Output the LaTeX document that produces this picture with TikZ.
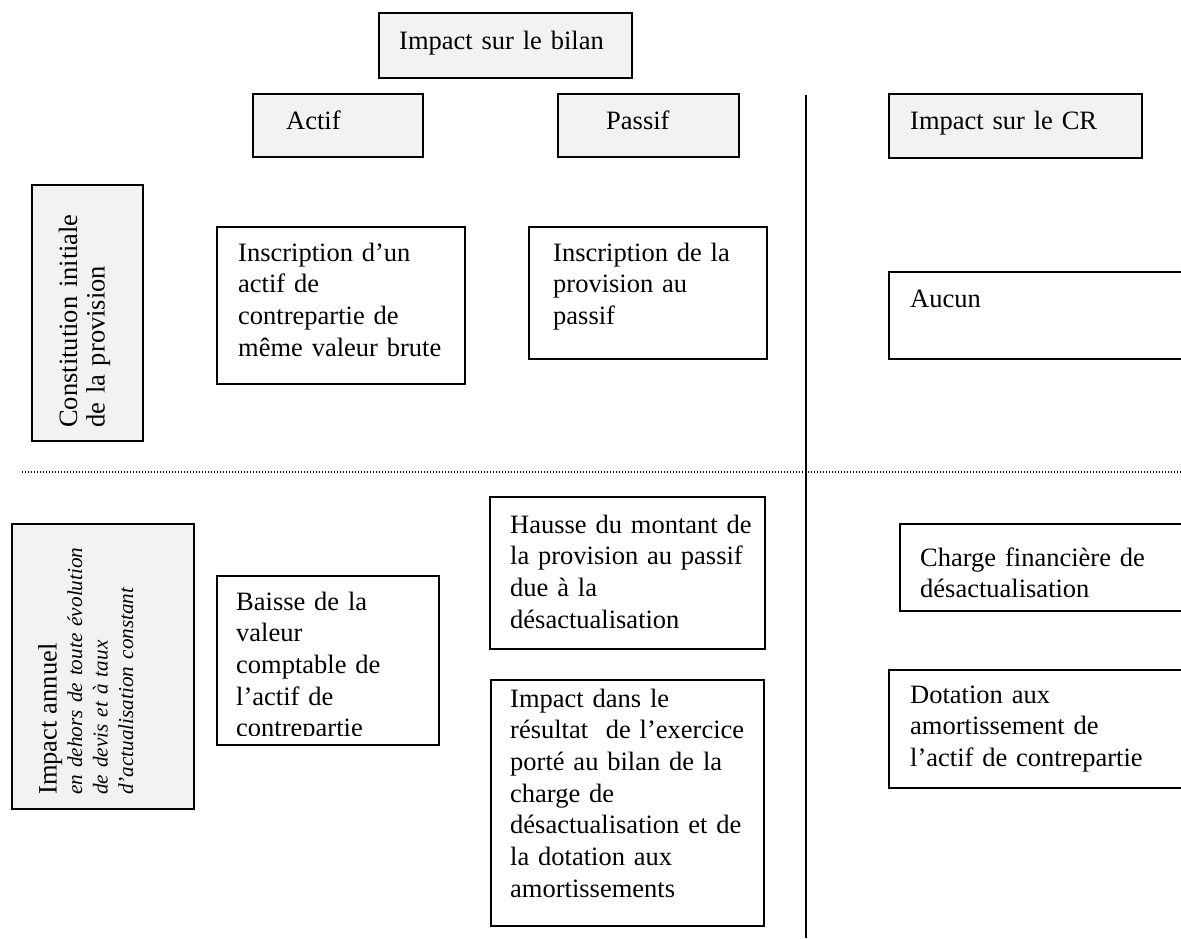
\documentclass[tikz,border=0pt]{standalone}
\usepackage{fontspec}
\setmainfont{Liberation Serif}
\usetikzlibrary{positioning}
\definecolor{hdrgray}{HTML}{F2F2F2}

\begin{document}
\begin{tikzpicture}[%
    x=1pt, y=-1pt,
    font=\fontsize{26.5}{31.7}\selectfont,
    frame/.style={draw, line width=1.5pt, inner sep=0pt, anchor=north west},
    hdr/.style={frame, fill=hdrgray},
    sized/.style 2 args={minimum width=#1, minimum height=#2},
    txt/.style={inner sep=0pt, anchor=base west, text width=340, align=left},
    divider/.style={line width=1.8pt},
    sep/.style={line width=1.2pt, dash pattern=on 1.2pt off 1.8pt},
  ]
    \useasboundingbox (0,0) rectangle (1181,938);

    \node[hdr, sized={253}{65}]   (bilan)    at (378,12)  {};
    \node[hdr, sized={170}{63}]   (actif)    at (252,93)  {};
    \node[hdr, sized={181}{63}]   (passif)   at (557,93)  {};
    \node[hdr, sized={253}{64}]   (cr)       at (888,93)  {};
    \node[hdr, sized={111}{256}]  (constit)  at (31,184)  {};
    \node[hdr, sized={182}{285}]  (annuel)   at (11,523)  {};

    \node[frame, sized={248}{157}] (inscact)  at (216,226) {};
    \node[frame, sized={238}{132}] (inscpas)  at (528,226) {};
    \node[frame, sized={320}{87}]  (aucun)    at (888,271) {};
    \node[frame, sized={222}{169}] (baisse)   at (216,575) {};
    \node[frame, sized={275}{152}] (hausse)   at (489,496) {};
    \node[frame, sized={273}{246}] (impres)   at (490,679) {};
    \node[frame, sized={300}{87}]  (charge)   at (899,523) {};
    \node[frame, sized={320}{118}] (dotation) at (888,669) {};

    \node[txt] (bilan-t)  at (399,49)  {Impact sur le bilan};
    \node[txt] (actif-t)  at (286,129) {Actif};
    \node[txt] (passif-t) at (606,129) {Passif};
    \node[txt] (cr-t)     at (910,129) {Impact sur le CR};

    \node[txt, rotate=90, font=\fontsize{26.5}{27.5}\selectfont] (constit-t) at (77,428)
      {Constitution initiale\\de la provision};
    \node[txt, rotate=90, font=\fontsize{21.2}{25.5}\selectfont\itshape] (annuel-t) at (56.7,795)
      {{\upshape\fontsize{26.5}{25.5}\selectfont Impact annuel}\\en dehors de toute évolution\\de devis et à taux\\d’actualisation constant};

    \node[txt] (inscact-t) at (238,261) {Inscription d’un\\actif de\\contrepartie de\\même valeur brute};
    \node[txt] (inscpas-t) at (553,261) {Inscription de la\\provision au\\passif};
    \node[txt] (aucun-t)   at (910,307) {Aucun};
    \begin{scope}
      \clip (216,575) rectangle (438,735);
      \node[txt] (baisse-t) at (236,610) {Baisse de la\\valeur\\comptable de\\l’actif de\\contrepartie};
    \end{scope}
    \node[txt] (hausse-t)   at (510,533) {Hausse du montant de\\la provision au passif\\due à la\\désactualisation};
    \node[txt] (impres-t)   at (510,707) {Impact dans le\\résultat~ de l’exercice\\porté au bilan de la\\charge de\\désactualisation et de\\la dotation aux\\amortissements};
    \node[txt] (charge-t)   at (920,566) {Charge financière de\\désactualisation};
    \node[txt] (dotation-t) at (910,703) {Dotation aux\\amortissement de\\l’actif de contrepartie};

    \coordinate (vtop) at (806,95);
    \coordinate (vbot) at (806,938);
    \coordinate (hleft) at (22,472);
    \coordinate (hright) at (1181,472);
    \draw[divider] (vtop) -- (vbot);
    \draw[sep] (hleft) -- (hright);
  \end{tikzpicture}
\end{document}
